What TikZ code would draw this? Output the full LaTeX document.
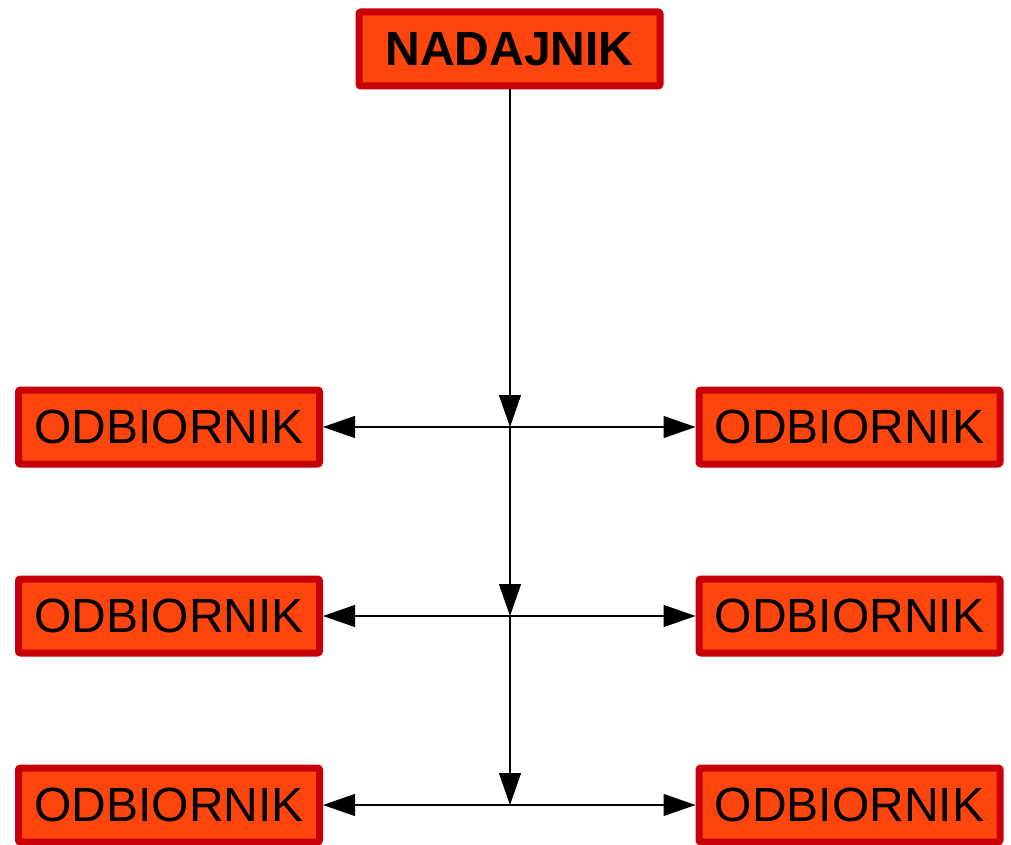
\documentclass[tikz,border=0pt]{standalone}
\usepackage{fontspec}
\setmainfont{Liberation Sans}
\usetikzlibrary{arrows.meta}
\definecolor{boxfill}{RGB}{255,69,14}
\definecolor{boxline}{RGB}{200,0,8}
\begin{document}
\begin{tikzpicture}[x=0.75pt,y=-0.75pt,
  box/.style={draw=boxline,fill=boxfill,line width=5.25pt,rounded corners=1.5pt,
    minimum width=301*0.75pt,minimum height=74*0.75pt,inner sep=0pt,
    font=\fontsize{36pt}{42pt}\selectfont},
  conn/.style={line width=0.9pt,-{Triangle[length=24pt,width=16.5pt]}}]
\useasboundingbox (0,0) rectangle (1011,845);
\node[box,font=\fontsize{36pt}{42pt}\selectfont\bfseries] (tx) at (509.5,49) {NADAJNIK};
\node[box] (l1) at (169,427) {ODBIORNIK};
\node[box] (r1) at (849.5,427) {ODBIORNIK};
\node[box] (l2) at (169,616) {ODBIORNIK};
\node[box] (r2) at (849.5,616) {ODBIORNIK};
\node[box] (l3) at (169,805) {ODBIORNIK};
\node[box] (r3) at (849.5,805) {ODBIORNIK};
\coordinate (j1) at (510,427);
\coordinate (j2) at (510,616);
\coordinate (j3) at (510,805);
\draw[conn] (tx.south -| j1) -- (j1);
\draw[conn] (j1) -- (j2);
\draw[conn] (j2) -- (j3);
\draw[conn] (j1) -- (l1);
\draw[conn] (j1) -- (r1);
\draw[conn] (j2) -- (l2);
\draw[conn] (j2) -- (r2);
\draw[conn] (j3) -- (l3);
\draw[conn] (j3) -- (r3);
\end{tikzpicture}
\end{document}
